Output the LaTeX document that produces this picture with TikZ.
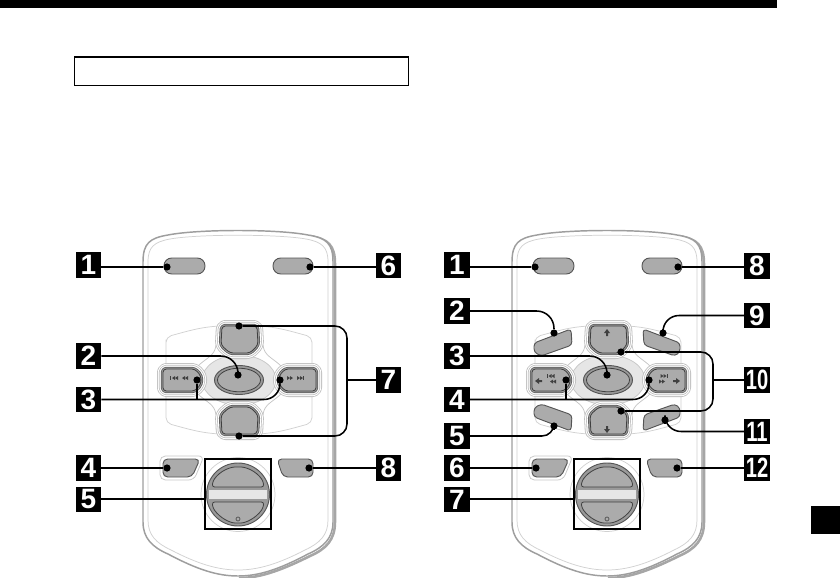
\documentclass[tikz,border=0pt]{standalone}
\usepackage{graphicx}
\usepackage{fontspec}
\setmainfont{Liberation Sans}
\definecolor{btn}{HTML}{ABABAB}
\definecolor{btnline}{HTML}{555555}
\definecolor{halo}{HTML}{BDBDBD}
\definecolor{padlight}{HTML}{E6E6E6}
\tikzset{
  lab/.style={fill=black,text=white,minimum size=18.9pt,inner sep=0pt,font=\bfseries\fontsize{21}{21}\selectfont},
  dot/.style={circle,fill=black,minimum size=5.4pt,inner sep=0pt},
  conn/.style={line width=1.15pt,black},
  softbtn/.style={fill=btn,draw=btnline,line width=.7pt,rounded corners=2.5pt,line join=round},
  icon/.style={fill=black!75,draw=none}
}
\newcommand{\narrow}[1]{\scalebox{0.72}[1]{#1}}
% ringed d-pad key
\newcommand{\ringkey}[1]{%
  \draw[halo,line width=9pt,rounded corners=2.5pt,line join=round] #1;
  \draw[white,line width=7.8pt,rounded corners=2.5pt,line join=round] #1;
  \draw[halo,line width=6.2pt,rounded corners=2.5pt,line join=round] #1;
  \draw[white,line width=5pt,rounded corners=2.5pt,line join=round] #1;
  \draw[black!65,line width=3.3pt,rounded corners=2.5pt,line join=round] #1;
  \draw[btn!90!black,line width=2.1pt,rounded corners=2.5pt,line join=round] #1;
  \draw[fill=btn,draw=black!75,line width=.6pt,rounded corners=2.5pt,line join=round] #1;
}
\newcommand{\icotri}[3]{\fill[icon] ({#1},{#2}) -- ++({3*(#3)},-2) -- ++(0,4) -- cycle;}
\newcommand{\icodouble}[3]{\icotri{#1}{#2}{#3}\icotri{(#1)+3*(#3)}{#2}{#3}}
% body, panel, top and bottom keys, rotary
\newcommand{\rembody}{%
  \draw[black!35,line width=1.9pt] (72,236) .. controls (90,239) and (97,245) .. (97,264) -- (97,522) .. controls (97,540) and (88,549) .. (72,556) .. controls (40,572) and (20,578) .. (1,578);
  \draw[black!38,line width=1.1pt,fill=white] (-95,262) .. controls (-95,243) and (-88,238) .. (-70,235) .. controls (-40,229) and (40,229) .. (70,235) .. controls (88,238) and (95,243) .. (95,262) -- (95,522) .. controls (95,538) and (86,547) .. (70,554) .. controls (40,570) and (20,576) .. (0,576) .. controls (-20,576) and (-40,570) .. (-70,554) .. controls (-86,547) and (-95,538) .. (-95,522) -- cycle;
  \draw[black!18,line width=.55pt] (-90,262) .. controls (-90,247) and (-84,242) .. (-68,239) .. controls (-40,234) and (40,234) .. (68,239) .. controls (84,242) and (90,247) .. (90,262) -- (90,520) .. controls (90,535) and (82,543) .. (67,550) .. controls (40,564) and (20,570) .. (0,570) .. controls (-20,570) and (-40,564) .. (-67,550) .. controls (-82,543) and (-90,535) .. (-90,520) -- cycle;
  % top keys
  \draw[softbtn,rounded corners=5.8pt] (-74,258) rectangle (-33,274);
  \draw[softbtn,rounded corners=5.8pt] (35,258) rectangle (75,274);
  % panel
  \draw[black!18,line width=.55pt,fill=white,rounded corners=4pt] (-72,345) -- (-72,337) .. controls (-50,331) and (-40,328) .. (-20,326) -- (22,326) .. controls (42,328) and (52,331) .. (74,337) -- (74,423) .. controls (52,429) and (42,432) .. (22,434) -- (-20,434) .. controls (-40,432) and (-50,429) .. (-72,423) -- cycle;
  % cross
  \draw[fill=white,draw=black!22,line width=.55pt] (-22,345) .. controls (-23,356) and (-32,358) .. (-40,366) -- (-40,394) .. controls (-32,402) and (-23,404) .. (-22,415) -- (25,415) .. controls (26,404) and (35,402) .. (43,394) -- (43,366) .. controls (35,358) and (26,356) .. (25,345) -- cycle;
  \draw[fill=padlight,draw=black!22,line width=.55pt] (1,380) ellipse [x radius=37,y radius=25];
  % d-pad keys
  \ringkey{(-16,326) -- (19,326) -- (20,345) -- (12,353) -- (-8,353) -- (-17,345) -- cycle}
  \ringkey{(-16,434) -- (19,434) -- (20,415) -- (12,407) -- (-8,407) -- (-17,415) -- cycle}
  \ringkey{(-75,369) -- (-43,369) -- (-37,376) -- (-37,384) -- (-43,391) -- (-75,391) -- cycle}
  \ringkey{(78,369) -- (47,369) -- (41,376) -- (41,384) -- (47,391) -- (78,391) -- cycle}
  % centre key
  \draw[fill=btn!90!black,draw=btnline,line width=.7pt] (1,380) ellipse [x radius=24.5,y radius=14.5];
  \draw[fill=btn,draw=black!75,line width=.6pt] (1,380) ellipse [x radius=21.5,y radius=11.8];
  % lower keys
  \draw[black!22,line width=.55pt,rounded corners=4pt] (-78,456) -- (-34,456) -- (-44,480) -- (-78,480) -- cycle;
  \draw[softbtn,rounded corners=3.5pt] (-75,459) -- (-38,459) -- (-46,477) -- (-75,477) -- cycle;
  \draw[softbtn,rounded corners=3.5pt] (39,459) -- (75,459) -- (75,477) -- (45,477) -- cycle;
  % rotary
  \draw[black!18,line width=.55pt] (0,494.5) circle (37);
  \draw[fill=btn!90!black,draw=btnline,line width=.7pt] (0,494.5) circle (31.5);
  \fill[padlight] (-29,490) rectangle (29,499);
  \draw[fill=btn,draw=black!75,line width=.6pt,rounded corners=2pt] (-26,487) -- (-25,481) .. controls (-18,471) and (-8,467) .. (0,467) .. controls (8,467) and (18,471) .. (25,481) -- (26,487) -- cycle;
  \draw[fill=btn,draw=black!75,line width=.6pt,rounded corners=2pt] (-26,502) -- (-25,508) .. controls (-18,518) and (-8,523) .. (0,523) .. controls (8,523) and (18,518) .. (25,508) -- (26,502) -- cycle;
  \draw[black!70,line width=.5pt] (0,519) circle (2);
  \draw[black,line width=1.2pt] (-33,459) rectangle (33,529);
}
\begin{document}
\begin{tikzpicture}[x=0.75pt,y=-0.75pt]
\useasboundingbox (0,0) rectangle (840,578);
\fill[black] (0,0) rectangle (777,8);
\fill[black] (811,506) rectangle (840,534);
\draw[black,line width=.85pt] (74.5,57) rectangle (408.5,85.5);

% ---------- left remote ----------
\begin{scope}[shift={(238,0)}]
  \rembody
  \fill[icon] (-68,376) rectangle (-67,380);
  \icodouble{-66}{378}{1}
  \icodouble{-56}{378}{1}
  \icodouble{55}{378}{-1}
  \icodouble{65}{378}{-1}
  \fill[icon] (65,376) rectangle (66,380);
\end{scope}
\node[lab] (a1) at (88.5,265) {1};
\node[lab] (a2) at (88.5,356) {2};
\node[lab] (a3) at (88.5,399.5) {3};
\node[lab] (a4) at (88.5,468) {4};
\node[lab] (a5) at (88.5,499.5) {5};
\node[lab] (a6) at (388.5,265.5) {6};
\node[lab] (a7) at (388.5,380) {7};
\node[lab] (a8) at (388.5,468) {8};
\node[dot] (ad1) at (167,267) {};
\node[dot] (ad6) at (310,267) {};
\node[dot] (ad2) at (238,375) {};
\node[dot] (ad3a) at (197,380) {};
\node[dot] (ad3b) at (280,380) {};
\node[dot] (ad4) at (167,468) {};
\node[dot] (ad8) at (309,468) {};
\node[dot] (ad7a) at (239,326) {};
\node[dot] (ad7b) at (239,436) {};
\coordinate (ab5) at (205,499);
\coordinate (abt) at (347,326);
\coordinate (abb) at (347,436);
\draw[conn] (a1.east |- ad1) -- (ad1);
\draw[conn] (ad6) -- (a6.west |- ad6);
\draw[conn,rounded corners=13pt] (a2.east) -| (ad2);
\draw[conn,rounded corners=12pt] (a3.east) -| (ad3b);
\draw[conn] (ad3a) -- (ad3a |- a3.east);
\draw[conn] (a4.east) -- (ad4);
\draw[conn] (a5.east |- ab5) -- (ab5);
\draw[conn] (ad8) -- (a8.west);
\draw[conn,rounded corners=9pt] (ad7a) -- (abt) -- (abb) -- (ad7b);
\draw[conn] (a7.west) -- (a7.west -| abt);

% ---------- right remote ----------
\begin{scope}[shift={(607,0)}]
  \rembody
  \draw[softbtn] (-73,352) -- (-73,343) -- (-36,329) -- (-35,345) -- (-66,356) -- cycle;
  \draw[softbtn] (73,352) -- (73,343) -- (36,329) -- (37,345) -- (68,356) -- cycle;
  \draw[softbtn] (-73,408) -- (-73,417) -- (-36,431) -- (-35,415) -- (-66,404) -- cycle;
  \draw[softbtn] (73,408) -- (73,417) -- (36,431) -- (37,415) -- (68,404) -- cycle;
  % arrows
  \fill[icon] (0,329) -- (3,333) -- (1,333) -- (1,336) -- (-1,336) -- (-1,333) -- (-3,333) -- cycle;
  \fill[icon] (0,433) -- (3,429) -- (1,429) -- (1,426) -- (-1,426) -- (-1,429) -- (-3,429) -- cycle;
  \fill[icon] (-72,381) -- (-68,378) -- (-68,380) -- (-65,380) -- (-65,382) -- (-68,382) -- (-68,384) -- cycle;
  \fill[icon] (73,381) -- (69,378) -- (69,380) -- (66,380) -- (66,382) -- (69,382) -- (69,384) -- cycle;
  % skip icons
  \fill[icon] (-60,374) rectangle (-59,378);
  \icodouble{-58.5}{376}{1}
  \icodouble{-57}{381.5}{1}
  \fill[icon] (60,374) rectangle (61,378);
  \icodouble{59.5}{376}{-1}
  \icodouble{58}{381.5}{-1}
\end{scope}
\node[lab] (b1) at (457,265) {1};
\node[lab] (b2) at (457,311) {2};
\node[lab] (b3) at (457,356) {3};
\node[lab] (b4) at (457,399.5) {4};
\node[lab] (b5) at (457,436) {5};
\node[lab] (b6) at (457,468) {6};
\node[lab] (b7) at (457,499.5) {7};
\node[lab] (b8) at (757,266) {8};
\node[lab] (b9) at (757,315.5) {9};
\node[lab] (b10) at (757,380) {\narrow{10}};
\node[lab] (b11) at (757,431.5) {\narrow{11}};
\node[lab] (b12) at (757,468) {\narrow{12}};
\node[dot] (bd1) at (535,267) {};
\node[dot] (bd8) at (678,267) {};
\node[dot] (bd2) at (554,333) {};
\node[dot] (bd9) at (663,333) {};
\node[dot] (bd3) at (607,375) {};
\node[dot] (bd4a) at (566,380) {};
\node[dot] (bd4b) at (649,380) {};
\node[dot] (bd5) at (554,426) {};
\node[dot] (bd11) at (665,420) {};
\node[dot] (bd6) at (536,468) {};
\node[dot] (bd12) at (677,468) {};
\node[dot] (bd10a) at (621,352) {};
\node[dot] (bd10b) at (621,411) {};
\coordinate (bb7) at (574,499);
\coordinate (bbt) at (713,352);
\coordinate (bbb) at (713,411);
\draw[conn] (b1.east |- bd1) -- (bd1);
\draw[conn] (bd8) -- (b8.west |- bd8);
\draw[conn,rounded corners=13pt] (b2.east) -| (bd2);
\draw[conn,rounded corners=12pt] (b9.west) -| (bd9);
\draw[conn,rounded corners=13pt] (b3.east) -| (bd3);
\draw[conn,rounded corners=12pt] (b4.east) -| (bd4b);
\draw[conn] (bd4a) -- (bd4a |- b4.east);
\draw[conn,rounded corners=9pt] (b5.east) -| (bd5);
\draw[conn,rounded corners=12pt] (bd11) |- (b11.west);
\draw[conn] (b6.east) -- (bd6);
\draw[conn] (b7.east |- bb7) -- (bb7);
\draw[conn] (bd12) -- (b12.west);
\draw[conn,rounded corners=9pt] (bd10a) -- (bbt) -- (bbb) -- (bd10b);
\draw[conn] (b10.west) -- (b10.west -| bbt);
\end{tikzpicture}
\end{document}
